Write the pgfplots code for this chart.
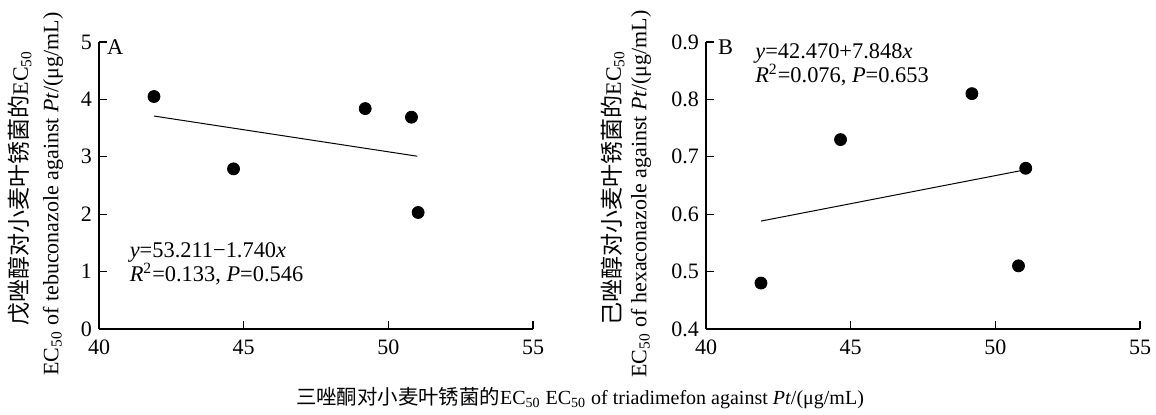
\documentclass[border=0pt]{standalone}
\usepackage{fontspec}
\setmainfont{Liberation Serif}
\newfontfamily\cjk{Noto Sans CJK SC}
\usepackage{pgfplots}
\pgfplotsset{compat=1.18}
\newcommand{\ec}{EC\textsubscript{50}}
\newcommand{\tfont}{\fontsize{11}{13}\selectfont}
\newcommand{\efont}{\fontsize{11.2}{12}\selectfont}
\newcommand{\cfont}{\fontsize{11.5}{13}\selectfont}

\pgfplotstableread{
x y
41.9 4.05
44.65 2.79
49.2 3.84
50.8 3.69
51.03 2.03
}\dataA
\pgfplotstableread{
x y
41.9 0.480
44.65 0.730
49.19 0.810
50.8 0.510
51.05 0.680
}\dataB

\pgfplotsset{panel/.style={
  scale only axis, width=217pt, height=143.5pt,
  axis x line*=bottom, axis y line*=left,
  axis line style={line width=0.75pt, -},
  tick style={line width=0.6pt, black},
  major tick length=4pt, tick align=inside,
  xmin=40, xmax=55, xtick={40,45,50,55},
  ticklabel style={font=\tfont},
  xticklabel style={yshift=-2pt},
  /pgf/number format/assume math mode=true,
  clip=false,
}}

\begin{document}
\begin{tikzpicture}[x=1pt,y=1pt]
\useasboundingbox (0,0) rectangle (578,207.5);

\begin{axis}[panel, at={(49.5pt,43pt)}, anchor=south west,
  ymin=0, ymax=5, ytick={0,1,2,3,4,5}]
\addplot[only marks, mark=*, mark size=3pt, black] table {\dataA};
\addplot[black, line width=0.5pt] coordinates {(41.9,3.71) (51.0,3.01)};
\node[anchor=north west, inner sep=0pt, font=\efont] at (rel axis cs:0.018,1.01) {A};
\node[anchor=west, align=left, inner sep=0pt, font=\efont] at (axis cs:41.05,1.13)
  {\textit{y}=53.211\textminus1.740\textit{x}\\\textit{R}\textsuperscript{2}=0.133, \textit{P}=0.546};
\end{axis}

\begin{axis}[panel, at={(353pt,43pt)}, anchor=south west,
  ymin=0.4, ymax=0.9, ytick={0.4,0.5,0.6,0.7,0.8,0.9},
  yticklabel style={/pgf/number format/.cd, fixed, fixed zerofill, precision=1}]
\addplot[only marks, mark=*, mark size=3pt, black] table {\dataB};
\addplot[black, line width=0.5pt] coordinates {(41.9,0.588) (51.0,0.677)};
\node[anchor=north west, inner sep=0pt, font=\efont] at (rel axis cs:0.027,1.01) {B};
\node[anchor=west, align=left, inner sep=0pt, font=\efont] at (axis cs:41.69,0.861)
  {\textit{y}=42.470+7.848\textit{x}\\\textit{R}\textsuperscript{2}=0.076, \textit{P}=0.653};
\end{axis}

% y labels
\node[rotate=90, inner sep=0pt] at (10,113.5) {\cfont\cjk 戊唑醇对小麦叶锈菌的\rmfamily\tfont\ec};
\node[rotate=90, inner sep=0pt, font=\tfont] at (26.5,110.5) {\ec{} of tebuconazole against \textit{Pt}/(μg/mL)};
\node[rotate=90, inner sep=0pt] at (306.5,113.5) {\cfont\cjk 己唑醇对小麦叶锈菌的\rmfamily\tfont\ec};
\node[rotate=90, inner sep=0pt, font=\tfont] at (320.5,110.5) {\ec{} of hexaconazole against \textit{Pt}/(μg/mL)};
% x label
\node[inner sep=0pt] at (290,8.5) {\fontsize{10.2}{12}\selectfont\cjk 三唑酮对小麦叶锈菌的\rmfamily\fontsize{10}{12}\selectfont\ec{} \ec{} of triadimefon against \textit{Pt}/(μg/mL)};
\end{tikzpicture}
\end{document}
